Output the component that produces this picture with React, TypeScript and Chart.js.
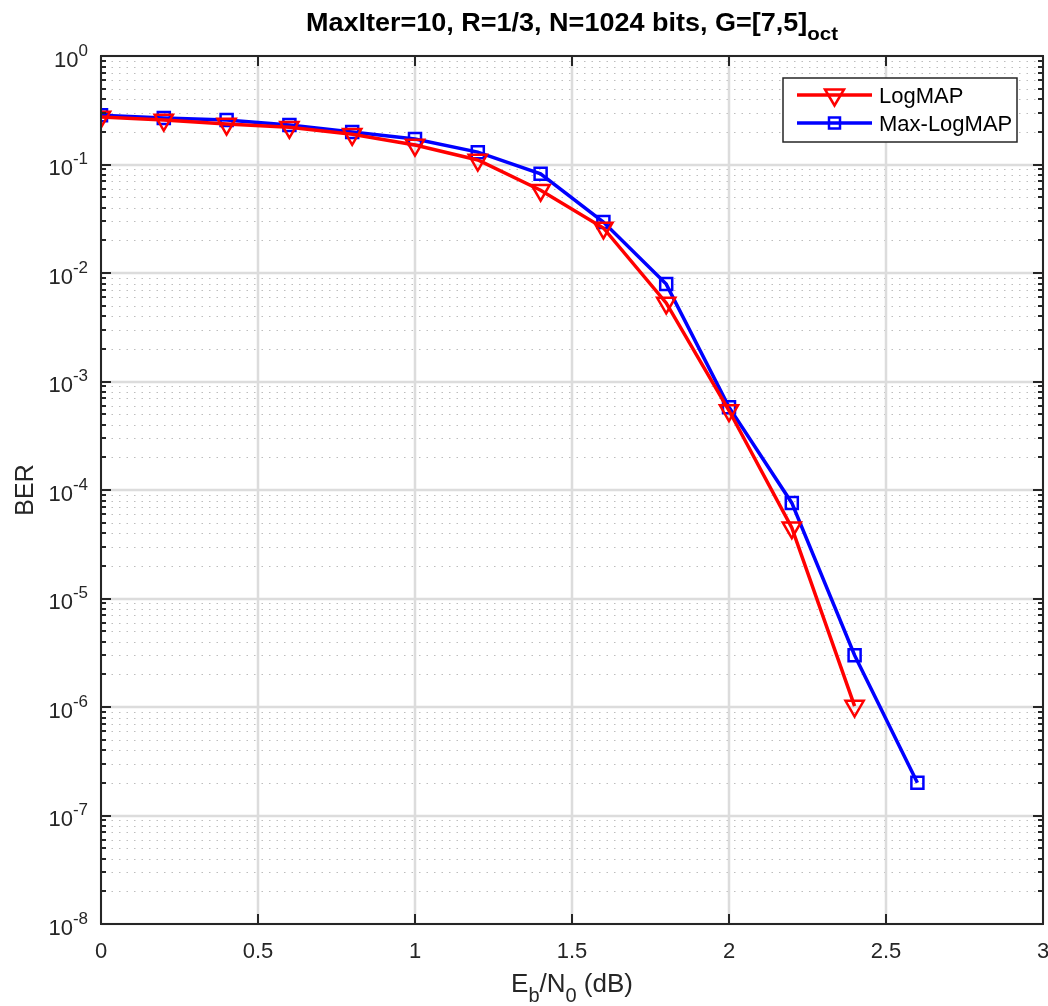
import React, { useEffect, useRef } from "react";
import { Chart, registerables } from "chart.js";

Chart.register(...registerables);

const ebn0: number[] = [0, 0.2, 0.4, 0.6, 0.8, 1.0, 1.2, 1.4, 1.6, 1.8, 2.0, 2.2, 2.4, 2.6];
const logMapBer: number[] = [0.274, 0.257, 0.236, 0.22, 0.19, 0.151, 0.11, 0.058, 0.026, 0.0053, 5.4e-4, 4.5e-5, 1.02e-6];
const maxLogMapBer: number[] = [0.285, 0.268, 0.257, 0.231, 0.199, 0.172, 0.13, 0.082, 0.0295, 0.0079, 5.8e-4, 7.6e-5, 3.0e-6, 2.0e-7];
const xTicks: number[] = [0, 0.5, 1, 1.5, 2, 2.5, 3];
const xTickLabels: string[] = ["0", "0.5", "1", "1.5", "2", "2.5", "3"];
const yExponents: number[] = [0, -1, -2, -3, -4, -5, -6, -7, -8];
const seriesNames: string[] = ["LogMAP", "Max-LogMAP"];
const titleMain = "MaxIter=10, R=1/3, N=1024 bits, G=[7,5]";
const titleSub = "oct";

const FONT = "'Liberation Sans', Arial, Helvetica, sans-serif";

type Seg = { t: string; font: string; dy: number };

function segWidth(ctx: CanvasRenderingContext2D, segs: Seg[]) {
  let w = 0;
  for (const s of segs) {
    ctx.font = s.font;
    w += ctx.measureText(s.t).width;
  }
  return w;
}
function drawSegs(
  ctx: CanvasRenderingContext2D,
  segs: Seg[],
  x: number,
  y: number,
  align: "left" | "center" | "right",
  sx = 1
) {
  const w = segWidth(ctx, segs) * sx;
  const startX = align === "left" ? x : align === "center" ? x - w / 2 : x - w;
  ctx.save();
  ctx.translate(startX, y);
  ctx.scale(sx, 1);
  ctx.textAlign = "left";
  ctx.textBaseline = "alphabetic";
  let cx = 0;
  for (const s of segs) {
    ctx.font = s.font;
    ctx.fillText(s.t, cx, s.dy);
    cx += ctx.measureText(s.t).width;
  }
  ctx.restore();
}

const matlabPlugin = {
  id: "matlabDecor",
  beforeDraw(chart: any) {
    const ctx = chart.ctx as CanvasRenderingContext2D;
    ctx.save();
    ctx.fillStyle = "#ffffff";
    ctx.fillRect(0, 0, chart.width, chart.height);
    const { left, right, top, bottom } = chart.chartArea;
    const xs = chart.scales.x;
    const ys = chart.scales.y;
    // minor y grid (dotted)
    ctx.strokeStyle = "#bdbdbd";
    ctx.lineWidth = 1.2;
    ctx.setLineDash([1.5, 6]);
    for (let e = -8; e < 0; e++) {
      for (let m = 2; m <= 9; m++) {
        const py = Math.round(ys.getPixelForValue(m * Math.pow(10, e))) + 0.5;
        ctx.beginPath();
        ctx.moveTo(left + 3, py);
        ctx.lineTo(right, py);
        ctx.stroke();
      }
    }
    ctx.setLineDash([]);
    // major grid
    ctx.strokeStyle = "#dcdcdc";
    ctx.lineWidth = 2.5;
    for (const e of yExponents) {
      const py = Math.round(ys.getPixelForValue(Math.pow(10, e)));
      ctx.beginPath();
      ctx.moveTo(left, py);
      ctx.lineTo(right, py);
      ctx.stroke();
    }
    for (const v of xTicks) {
      const px = Math.round(xs.getPixelForValue(v));
      ctx.beginPath();
      ctx.moveTo(px, top);
      ctx.lineTo(px, bottom);
      ctx.stroke();
    }
    ctx.restore();
  },
  afterDatasetsDraw(chart: any) {
    const ctx = chart.ctx as CanvasRenderingContext2D;
    ctx.save();
    const { left, right, top, bottom } = chart.chartArea;
    const xs = chart.scales.x;
    const ys = chart.scales.y;
    const dark = "#262626";
    // box
    ctx.strokeStyle = dark;
    ctx.lineWidth = 2;
    ctx.strokeRect(left, top, right - left, bottom - top);
    // x ticks
    ctx.lineWidth = 2;
    for (const v of xTicks) {
      const px = Math.round(xs.getPixelForValue(v));
      ctx.beginPath();
      ctx.moveTo(px, bottom);
      ctx.lineTo(px, bottom - 10);
      ctx.moveTo(px, top);
      ctx.lineTo(px, top + 10);
      ctx.stroke();
    }
    // y ticks major + minor
    for (const e of yExponents) {
      const py = Math.round(ys.getPixelForValue(Math.pow(10, e)));
      ctx.beginPath();
      ctx.moveTo(left, py);
      ctx.lineTo(left + 10, py);
      ctx.moveTo(right, py);
      ctx.lineTo(right - 10, py);
      ctx.stroke();
      if (e < 0) {
        for (let m = 2; m <= 9; m++) {
          const pm = Math.round(ys.getPixelForValue(m * Math.pow(10, e)));
          ctx.beginPath();
          ctx.moveTo(left, pm);
          ctx.lineTo(left + 5, pm);
          ctx.moveTo(right, pm);
          ctx.lineTo(right - 5, pm);
          ctx.stroke();
        }
      }
    }
    // x tick labels
    ctx.fillStyle = dark;
    ctx.textBaseline = "alphabetic";
    ctx.textAlign = "center";
    ctx.font = `22px ${FONT}`;
    xTicks.forEach((v, i) => {
      const px = xs.getPixelForValue(v);
      ctx.fillText(xTickLabels[i], px, bottom + 34);
    });
    // y tick labels
    for (const e of yExponents) {
      const py = ys.getPixelForValue(Math.pow(10, e));
      const segs: Seg[] = [
        { t: "10", font: `22px ${FONT}`, dy: 10.5 },
        { t: String(e), font: `17px ${FONT}`, dy: -0.5 },
      ];
      drawSegs(ctx, segs, left - 13, py, "right");
    }
    // x label
    const xl: Seg[] = [
      { t: "E", font: `26px ${FONT}`, dy: 0 },
      { t: "b", font: `20px ${FONT}`, dy: 10 },
      { t: "/N", font: `26px ${FONT}`, dy: 0 },
      { t: "0", font: `20px ${FONT}`, dy: 10 },
      { t: " (dB)", font: `26px ${FONT}`, dy: 0 },
    ];
    drawSegs(ctx, xl, (left + right) / 2, 992, "center");
    // y label
    ctx.save();
    ctx.translate(33, (top + bottom) / 2);
    ctx.rotate(-Math.PI / 2);
    ctx.textAlign = "center";
    ctx.textBaseline = "alphabetic";
    ctx.font = `25px ${FONT}`;
    ctx.fillText("BER", 0, 0);
    ctx.restore();
    // title
    ctx.fillStyle = "#000000";
    const tl: Seg[] = [
      { t: titleMain, font: `bold 25px ${FONT}`, dy: 0 },
      { t: titleSub, font: `bold 19px ${FONT}`, dy: 9 },
    ];
    drawSegs(ctx, tl, (left + right) / 2, 31, "center", 1.08);
    // legend
    const lx = 783, ly = 78, lw = 234, lh = 64;
    ctx.fillStyle = "#ffffff";
    ctx.fillRect(lx, ly, lw, lh);
    ctx.strokeStyle = dark;
    ctx.lineWidth = 1.5;
    ctx.strokeRect(lx, ly, lw, lh);
    const colors = ["#ff0000", "#0000ff"];
    [0, 1].forEach((i) => {
      const yy = ly + 17 + i * 28;
      ctx.strokeStyle = colors[i];
      ctx.lineWidth = 3.5;
      ctx.beginPath();
      ctx.moveTo(lx + 14, yy);
      ctx.lineTo(lx + 89, yy);
      ctx.stroke();
      const cx = lx + 51.5;
      ctx.lineWidth = 2.5;
      if (i === 0) {
        ctx.fillStyle = "#ffffff";
        ctx.beginPath();
        ctx.moveTo(cx - 9.5, yy - 5.5);
        ctx.lineTo(cx + 9.5, yy - 5.5);
        ctx.lineTo(cx, yy + 10.5);
        ctx.closePath();
        ctx.stroke();
      } else {
        ctx.strokeRect(cx - 5.5, yy - 5.5, 11, 11);
      }
      ctx.fillStyle = "#000000";
      ctx.textAlign = "left";
      ctx.textBaseline = "alphabetic";
      ctx.font = `22px ${FONT}`;
      ctx.fillText(seriesNames[i], lx + 96, yy + 8);
    });
    ctx.restore();
  },
};

export default function App() {
  const ref = useRef<HTMLCanvasElement | null>(null);
  useEffect(() => {
    if (!ref.current) return;
    const chart = new Chart(ref.current, {
      type: "line",
      data: {
        datasets: [
          {
            label: seriesNames[0],
            data: logMapBer.map((v, i) => ({ x: ebn0[i], y: v })),
            borderColor: "#ff0000",
            backgroundColor: "rgba(0,0,0,0)",
            borderWidth: 3.5,
            pointStyle: "triangle",
            rotation: 180,
            pointRadius: 10.5,
            pointBorderWidth: 2.5,
            pointBorderColor: "#ff0000",
            pointBackgroundColor: "rgba(0,0,0,0)",
            tension: 0,
          },
          {
            label: seriesNames[1],
            data: maxLogMapBer.map((v, i) => ({ x: ebn0[i], y: v })),
            borderColor: "#0000ff",
            backgroundColor: "rgba(0,0,0,0)",
            borderWidth: 3.5,
            pointStyle: "rect",
            pointRadius: 8.5,
            pointBorderWidth: 2.5,
            pointBorderColor: "#0000ff",
            pointBackgroundColor: "rgba(0,0,0,0)",
            tension: 0,
          },
        ],
      },
      options: {
        animation: false,
        responsive: false,
        devicePixelRatio: 1,
        layout: { autoPadding: false, padding: { left: 101, right: 5, top: 56, bottom: 82 } },
        plugins: { legend: { display: false }, title: { display: false }, tooltip: { enabled: false } },
        scales: {
          x: { type: "linear", min: 0, max: 3, display: false },
          y: { type: "logarithmic", min: 1e-8, max: 1, display: false },
        },
      },
      plugins: [matlabPlugin],
    });
    return () => chart.destroy();
  }, []);
  return (
    <div style={{ position: "fixed", left: 0, top: 0, width: 1048, height: 1006, background: "#fff" }}>
      <canvas ref={ref} width={1048} height={1006} style={{ width: 1048, height: 1006, display: "block" }} />
    </div>
  );
}
